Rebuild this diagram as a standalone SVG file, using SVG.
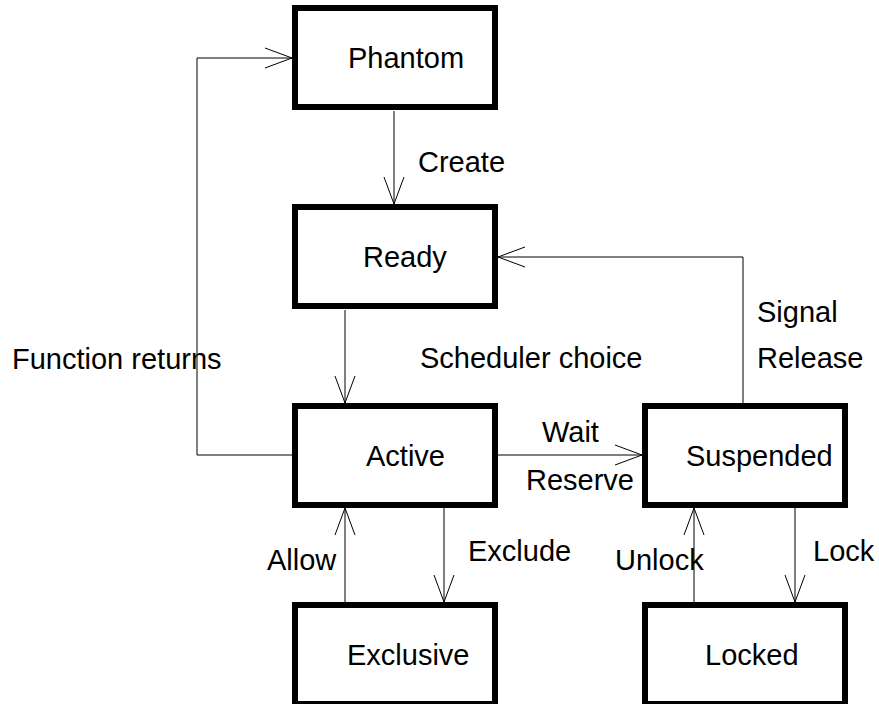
<svg xmlns="http://www.w3.org/2000/svg" width="879" height="704" viewBox="0 0 879 704">
<style>
.box{fill:#fff;stroke:#000;stroke-width:6}
.t{font-family:"Liberation Sans",Arial,sans-serif;font-size:29px;fill:#000}
.c{fill:none;stroke:#000;stroke-width:1}
</style>
<defs>
<marker id="arr" markerUnits="userSpaceOnUse" viewBox="-29 -12 31 24" refX="0" refY="0" markerWidth="31" markerHeight="24" orient="auto">
<path d="M -27 -10 L 0 0 L -27 10" fill="none" stroke="#000" stroke-width="1"/>
</marker>
</defs>
<rect width="879" height="704" fill="#fff"/>
<g id="connectors">
<path class="c" d="M 394 111 L 394 204" marker-end="url(#arr)"/>
<path class="c" d="M 345 310 L 345 403" marker-end="url(#arr)"/>
<path class="c" d="M 292 455 L 197 455 L 197 58 L 292 58" marker-end="url(#arr)"/>
<path class="c" d="M 498 455 L 642 455" marker-end="url(#arr)"/>
<path class="c" d="M 743 403 L 743 257 L 498 257" marker-end="url(#arr)"/>
<path class="c" d="M 345 602 L 345 508" marker-end="url(#arr)"/>
<path class="c" d="M 444 508 L 444 602" marker-end="url(#arr)"/>
<path class="c" d="M 694 602 L 694 508" marker-end="url(#arr)"/>
<path class="c" d="M 795 508 L 795 602" marker-end="url(#arr)"/>
<text class="t" x="418" y="172">Create</text>
<text class="t" x="420" y="368">Scheduler choice</text>
<text class="t" x="12" y="369">Function returns</text>
<text class="t" x="542" y="442">Wait</text>
<text class="t" x="526" y="490">Reserve</text>
<text class="t" x="757" y="322">Signal</text>
<text class="t" x="757" y="368">Release</text>
<text class="t" x="267" y="570">Allow</text>
<text class="t" x="468" y="561">Exclude</text>
<text class="t" x="615" y="570">Unlock</text>
<text class="t" x="813" y="561">Lock</text>
</g>
<g id="phantom"><rect class="box" x="295" y="8" width="200" height="99"/><text class="t" x="348" y="68">Phantom</text></g>
<g id="ready"><rect class="box" x="295" y="207" width="200" height="99"/><text class="t" x="363" y="267">Ready</text></g>
<g id="active"><rect class="box" x="295" y="406" width="200" height="99"/><text class="t" x="366" y="466">Active</text></g>
<g id="suspended"><rect class="box" x="645" y="406" width="200" height="99"/><text class="t" x="686" y="466">Suspended</text></g>
<g id="exclusive"><rect class="box" x="295" y="605" width="200" height="99"/><text class="t" x="347" y="665">Exclusive</text></g>
<g id="locked"><rect class="box" x="645" y="605" width="200" height="99"/><text class="t" x="705" y="665">Locked</text></g>
</svg>
